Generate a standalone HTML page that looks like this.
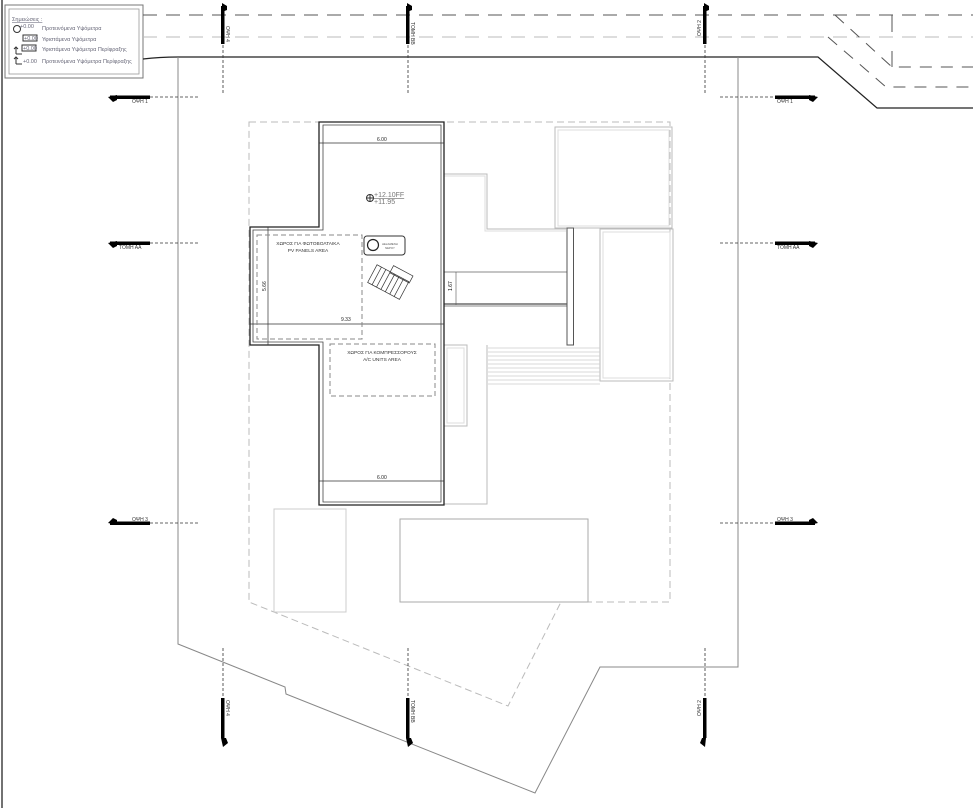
<!DOCTYPE html>
<html><head><meta charset="utf-8"><style>
html,body{margin:0;padding:0;background:#fff;}
svg{display:block;font-family:"Liberation Sans","DejaVu Sans",sans-serif;}
</style></head><body>
<svg width="973" height="808" viewBox="0 0 973 808" xmlns="http://www.w3.org/2000/svg">
<rect x="0" y="0" width="973" height="808" fill="#fff"/>
<line x1="2" y1="0" x2="2" y2="808" stroke="#444" stroke-width="1.5"/>
<!-- legend -->
<rect x="5" y="5" width="138" height="73" fill="#fff" stroke="#777" stroke-width="1"/>
<rect x="9" y="9" width="130" height="65" fill="none" stroke="#999" stroke-width="0.8"/>
<g font-size="5.5" fill="#667">
<text x="12" y="21" text-decoration="underline">Σημειώσεις :</text>
<circle cx="17" cy="29" r="3.5" fill="none" stroke="#333"/><text x="20" y="28">+0.00</text><text x="42" y="30">Προτεινόμενα Υψόμετρα</text>
<rect x="23" y="35" width="14" height="6" fill="none" stroke="#333"/><text x="24" y="40">+0.00</text><text x="42" y="41">Υφιστάμενα Υψόμετρα</text>
<path d="M16 54 V47 M14 49 L16 47 L18 49 M16 54 H22" stroke="#333" fill="none"/>
<rect x="22" y="45" width="14" height="6" fill="none" stroke="#333"/><text x="23" y="50">+0.00</text><text x="42" y="51">Υφιστάμενα Υψόμετρα Περίφραξης</text>
<path d="M16 64 V57 M14 59 L16 57 L18 59 M16 64 H22" stroke="#333" fill="none"/>
<text x="23" y="63">+0.00</text><text x="42" y="63">Προτεινόμενα Υψόμετρα Περίφραξης</text>
</g>
<!-- road -->
<line x1="143" y1="15" x2="973" y2="15" stroke="#555" stroke-width="1" stroke-dasharray="14,9"/>
<line x1="143" y1="37" x2="973" y2="37" stroke="#bbb" stroke-width="1" stroke-dasharray="14,9"/>
<path d="M143 59 Q160 57 178 57 H818 L877 108 H973" stroke="#222" stroke-width="1.2" fill="none"/>
<path d="M835 15 L892 67 H973" stroke="#555" fill="none" stroke-dasharray="12,9"/>
<path d="M828 37 L886 87 H973" stroke="#555" fill="none" stroke-dasharray="12,9"/>
<path d="M892 15 V32 M892 51 V67" stroke="#555"/>
<!-- plot boundary -->
<path d="M178 57 V644 L285 687 L286 694 L535 793 L600 667 H738 V57" stroke="#888" stroke-width="1" fill="none"/>
<!-- footprint dashed -->
<path d="M249 122 H670 V602 H561 L508 706 L249 602 Z" stroke="#bbb" stroke-width="1" fill="none" stroke-dasharray="7,4"/>
<!-- bottom rects -->
<rect x="274" y="509" width="72" height="103" fill="none" stroke="#ccc"/>
<rect x="400" y="519" width="188" height="83" fill="none" stroke="#aaa"/>
<!-- right gray building -->
<g stroke="#bbb" fill="none" stroke-width="1">
<path d="M444 174 H487 V229 H566"/>
<path d="M444 176 H485 V231 H566" stroke="#ddd"/>
<rect x="555" y="127" width="117" height="101"/>
<rect x="558" y="130" width="111" height="96" stroke="#ddd"/>
<rect x="600" y="229" width="73" height="152"/>
<rect x="603" y="232" width="67" height="146" stroke="#ddd"/>
<path d="M487 345 V504 H444"/>
<rect x="444" y="345" width="23" height="81"/>
<rect x="447" y="348" width="17" height="75" stroke="#ddd"/>
</g>
<g stroke="#ccc" stroke-width="0.7">
<line x1="488" y1="348" x2="600" y2="348"/><line x1="488" y1="352" x2="600" y2="352"/><line x1="488" y1="356" x2="600" y2="356"/><line x1="488" y1="360" x2="600" y2="360"/><line x1="488" y1="364" x2="600" y2="364"/><line x1="488" y1="368" x2="600" y2="368"/><line x1="488" y1="372" x2="600" y2="372"/><line x1="488" y1="376" x2="600" y2="376"/><line x1="488" y1="380" x2="600" y2="380"/><line x1="488" y1="384" x2="600" y2="384"/>
</g>
<!-- bridge -->
<line x1="444" y1="272" x2="567" y2="272" stroke="#888"/>
<line x1="444" y1="304" x2="567" y2="304" stroke="#222"/>
<line x1="444" y1="306" x2="567" y2="306" stroke="#888"/>
<rect x="567" y="228" width="6.5" height="117" fill="#fff" stroke="#555"/>
<line x1="456" y1="272" x2="456" y2="305" stroke="#555" stroke-width="0.6"/>
<text x="0" y="0" font-size="5" transform="translate(452,291) rotate(-90)">1.67</text>
<!-- main building -->
<path d="M319 122 H444 V505 H319 V345 H250 V227 H319 Z" fill="#fff" stroke="#222" stroke-width="1.3"/>
<path d="M323 125 H441 V502 H323 V342 H253 V230 H323 Z" fill="none" stroke="#444" stroke-width="0.8"/>
<!-- dims -->
<g stroke="#333" stroke-width="0.7">
<line x1="319" y1="143" x2="444" y2="143"/>
<line x1="319" y1="481" x2="444" y2="481"/>
<line x1="250" y1="324" x2="444" y2="324"/>
<line x1="268" y1="227" x2="268" y2="345"/>
</g>
<g font-size="5" fill="#222">
<text x="377" y="141">6.00</text>
<text x="377" y="479">6.00</text>
<text x="341" y="321">9.33</text>
<text x="0" y="0" transform="translate(266,291) rotate(-90)">5.66</text>
</g>
<rect x="257" y="235" width="105" height="104" fill="none" stroke="#888" stroke-dasharray="5,3"/>
<rect x="330" y="344" width="105" height="52" fill="none" stroke="#888" stroke-dasharray="5,3"/>
<g font-size="4.8" fill="#333" text-anchor="middle">
<text x="308" y="245">ΧΩΡΟΣ ΓΙΑ ΦΩΤΟΒΟΛΤΑΙΚΑ</text>
<text x="308" y="252">PV PANELS AREA</text>
<text x="382" y="354">ΧΩΡΟΣ ΓΙΑ ΚΟΜΠΡΕΣΣΟΡΟΥΣ</text>
<text x="382" y="361">A/C UNITS AREA</text>
</g>
<circle cx="370" cy="198" r="3.5" fill="none" stroke="#333"/>
<line x1="366" y1="198" x2="374" y2="198" stroke="#333"/><line x1="370" y1="194" x2="370" y2="202" stroke="#333"/>
<text x="374" y="197" font-size="7" fill="#777" text-decoration="underline">+12.10FF</text>
<text x="374" y="204" font-size="7" fill="#777">+11.95</text>
<rect x="364" y="236" width="41" height="19" rx="3" fill="none" stroke="#333"/>
<circle cx="373" cy="245" r="5.5" fill="none" stroke="#222" stroke-width="1.2"/>
<text x="390" y="245" font-size="2.8" fill="#555" text-anchor="middle">ΔΕΞΑΜΕΝΗ</text>
<text x="390" y="249" font-size="2.8" fill="#555" text-anchor="middle">ΝΕΡΟΥ</text>
<g transform="translate(390,283) rotate(28)" stroke="#333" fill="none" stroke-width="0.7">
<rect x="-20" y="-10" width="36" height="20"/>
<rect x="-5" y="-17" width="22" height="8"/>
<line x1="-15" y1="-10" x2="-15" y2="10"/><line x1="-10" y1="-10" x2="-10" y2="10"/><line x1="-5" y1="-10" x2="-5" y2="10"/><line x1="0" y1="-10" x2="0" y2="10"/><line x1="5" y1="-10" x2="5" y2="10"/><line x1="10" y1="-10" x2="10" y2="10"/>
</g>
<!-- section markers vertical -->
<g stroke="#333" stroke-width="0.8" stroke-dasharray="3,2">
<line x1="223" y1="40" x2="223" y2="95"/><line x1="408" y1="40" x2="408" y2="95"/><line x1="705" y1="40" x2="705" y2="95"/>
<line x1="223" y1="648" x2="223" y2="700"/><line x1="408" y1="648" x2="408" y2="700"/><line x1="705" y1="648" x2="705" y2="700"/>
<line x1="150" y1="97" x2="200" y2="97"/><line x1="720" y1="97" x2="775" y2="97"/>
<line x1="150" y1="243" x2="200" y2="243"/><line x1="720" y1="243" x2="775" y2="243"/>
<line x1="150" y1="523" x2="200" y2="523"/><line x1="720" y1="523" x2="775" y2="523"/>
</g>
<g fill="#000">
<rect x="221" y="6" width="3.5" height="38"/><path d="M222 3 L227 6 L227 10 L222 12 Z"/>
<rect x="406" y="6" width="3.5" height="38"/><path d="M407 3 L412 6 L412 10 L407 12 Z"/>
<rect x="703" y="6" width="3.5" height="38"/><path d="M704 3 L709 6 L709 10 L704 12 Z"/>
<rect x="221" y="698" width="3.5" height="40"/><path d="M223 747 L228 743 L226 738 L221 738 Z"/>
<rect x="406" y="698" width="3.5" height="40"/><path d="M408 747 L413 743 L411 738 L406 738 Z"/>
<rect x="703" y="698" width="3.5" height="40"/><path d="M705 747 L700 743 L702 738 L706 738 Z"/>
<rect x="110" y="95.5" width="40" height="3.5"/><path d="M108 97 L113 102 L117 100 L117 95 Z"/>
<rect x="110" y="241.5" width="40" height="3.5"/><path d="M108 243 L113 248 L117 246 L117 241 Z"/>
<rect x="110" y="521.5" width="40" height="3.5"/><path d="M108 523 L113 518 L117 520 L117 525 Z"/>
<rect x="775" y="95.5" width="40" height="3.5"/><path d="M818 97 L813 102 L809 100 L809 95 Z"/>
<rect x="775" y="241.5" width="40" height="3.5"/><path d="M818 243 L813 248 L809 246 L809 241 Z"/>
<rect x="775" y="521.5" width="40" height="3.5"/><path d="M818 523 L813 518 L809 520 L809 525 Z"/>
</g>
<g font-size="5" fill="#333">
<text x="132" y="103">ΟΨΗ 1</text><text x="777" y="103">ΟΨΗ 1</text>
<text x="119" y="249">ΤΟΜΗ ΑΑ</text><text x="777" y="249">ΤΟΜΗ ΑΑ</text>
<text x="132" y="521">ΟΨΗ 3</text><text x="777" y="521">ΟΨΗ 3</text>
<text transform="translate(226,26) rotate(90)">ΟΨΗ 4</text>
<text transform="translate(411,22) rotate(90)">ΤΟΜΗ ΒΒ</text>
<text transform="translate(701,36) rotate(-90)">ΟΨΗ 2</text>
<text transform="translate(226,700) rotate(90)">ΟΨΗ 4</text>
<text transform="translate(411,700) rotate(90)">ΤΟΜΗ ΒΒ</text>
<text transform="translate(701,716) rotate(-90)">ΟΨΗ 2</text>
</g>
</svg>
</body></html>
